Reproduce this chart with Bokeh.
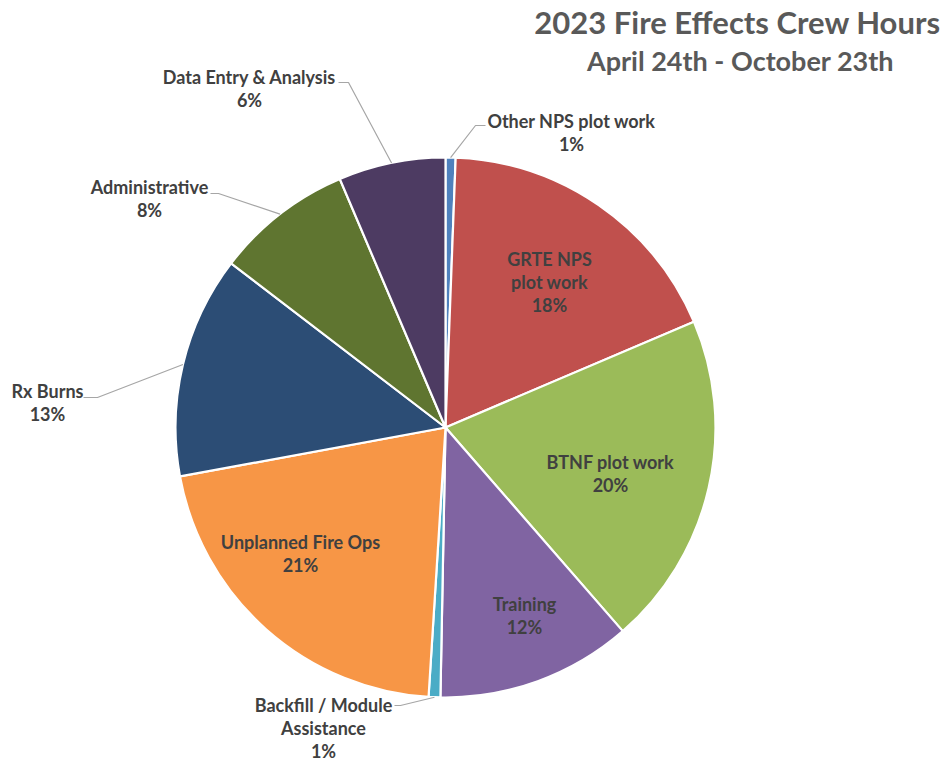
import math
from bokeh.plotting import figure
from bokeh.models import Range1d, ColumnDataSource
from bokeh.embed import file_html
from bokeh.resources import INLINE
from bokeh.core.properties import value

# ---------------- data ----------------
categories = ["Other NPS plot work", "GRTE NPS plot work", "BTNF plot work", "Training",
              "Backfill / Module Assistance", "Unplanned Fire Ops", "Rx Burns",
              "Administrative", "Data Entry & Analysis"]
shares = [0.6, 18.0, 20.0, 11.7, 0.7, 21.1, 13.3, 8.2, 6.4]
label_lines = [["Other NPS plot work"], ["GRTE NPS", "plot work"], ["BTNF plot work"],
               ["Training"], ["Backfill / Module", "Assistance"], ["Unplanned Fire Ops"],
               ["Rx Burns"], ["Administrative"], ["Data Entry & Analysis"]]
title_1 = "2023 Fire Effects Crew Hours"
title_2 = "April 24th - October 23th"

# ---------------- styles / layout ----------------
colors = ["#4F81BD", "#C0504D", "#9BBB59", "#8064A2", "#4BACC6",
          "#F79646", "#2C4D75", "#5F7530", "#4D3B62"]
W, H = 945, 761
def Y(sy):  # screen y -> data y
    return H - sy

CX, CY, R = 445, Y(427), 270
FONT = "Lato"
LBL_COLOR = "#404040"
LINE_H = 23

# label block: first-line screen position; leader: (elbow, end) screen points or None
label_pos = [(571, 120), (549, 258), (610, 461), (524, 603), (323, 704),
             (300, 541), (47, 390), (149, 186), (249, 76)]
leaders = [((475, 125), (485, 125)), None, None, None, ((400, 705), (394, 705)),
           None, ((97, 397), (83, 397)), ((218, 193), (210, 193)), ((348, 82), (338, 82))]

p = figure(width=W, height=H, output_backend="svg", toolbar_location=None,
           x_range=Range1d(0, W), y_range=Range1d(0, H), min_border=0)
p.axis.visible = False
p.grid.visible = False
p.outline_line_color = None
p.background_fill_color = "white"

total = sum(shares)
starts, ends, mids = [], [], []
cum = 0.0
for s in shares:
    a0 = cum / total
    cum += s
    a1 = cum / total
    # clockwise from 12 o'clock
    starts.append(math.pi / 2 - a1 * 2 * math.pi)
    ends.append(math.pi / 2 - a0 * 2 * math.pi)
    mids.append(math.pi / 2 - (a0 + a1) / 2 * 2 * math.pi)

src = ColumnDataSource(dict(start=starts, end=ends, color=colors, cat=categories))
p.wedge(x=CX, y=CY, radius=R, start_angle="start", end_angle="end", direction="anticlock",
        fill_color="color", line_color="white", line_width=2.2, source=src)

# leader lines
for i, ld in enumerate(leaders):
    if ld is None:
        continue
    x0 = CX + R * math.cos(mids[i])
    y0 = CY + R * math.sin(mids[i])
    (ex, ey), (tx_, ty_) = ld
    p.line([x0, ex, tx_], [y0, Y(ey), Y(ty_)], line_color="#A6A6A6", line_width=1.2)

# labels
tx, ty, tt = [], [], []
for i, lines in enumerate(label_lines):
    pct = f"{round(shares[i] / total * 100):.0f}%"
    lx, ly = label_pos[i]
    for j, t in enumerate(lines + [pct]):
        tx.append(lx)
        ty.append(Y(ly + j * LINE_H))
        tt.append(t)
p.text(x=tx, y=ty, text=tt, text_align="center", text_baseline="middle",
       text_font=value(FONT), text_font_style="bold", text_font_size="18px",
       text_color=LBL_COLOR)

# title
p.text(x=[737, 740], y=[Y(21), Y(60)], text=[title_1, title_2], text_align="center",
       text_baseline="middle", text_font=value(FONT), text_font_style="bold",
       text_font_size=["31px", "27px"], text_color="#595959")

open("out.html", "w").write(file_html(p, INLINE))
